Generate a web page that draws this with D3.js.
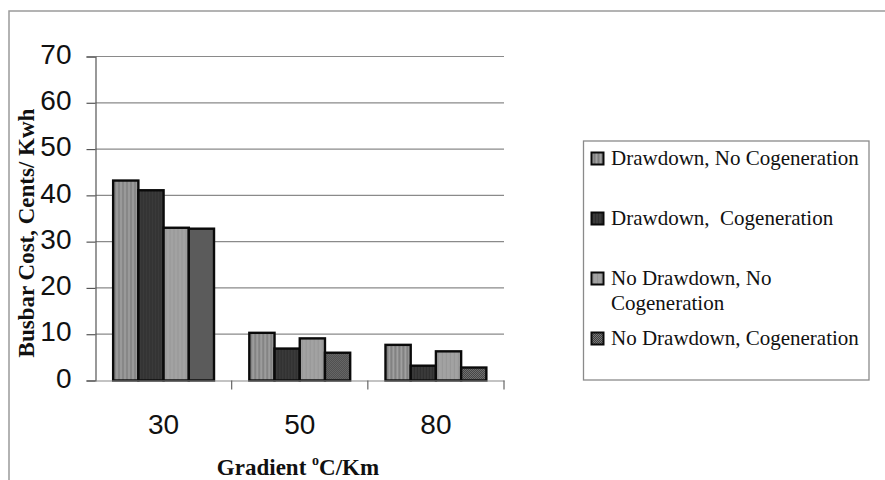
<!DOCTYPE html>
<html>
<head>
<meta charset="utf-8">
<script src="https://cdn.jsdelivr.net/npm/d3@7"></script>
<style>
  html, body { margin: 0; padding: 0; background: #fff; }
  svg { display: block; }
</style>
</head>
<body>
<svg id="chart" width="885" height="480"></svg>
<script>
// Busbar cost by geothermal gradient, four drawdown / cogeneration scenarios
const gradients = ["30", "50", "80"];
const seriesNames = [
  "Drawdown, No Cogeneration",
  "Drawdown,  Cogeneration",
  "No Drawdown, No Cogeneration",
  "No Drawdown, Cogeneration"
];
const drawdownNoCogen   = [43.2, 10.3, 7.7];
const drawdownCogen     = [41.1, 6.9, 3.2];
const noDrawdownNoCogen = [33.0, 9.1, 6.3];
const noDrawdownCogen   = [32.8, 6.0, 2.8];
const yTicks = [0, 10, 20, 30, 40, 50, 60, 70];

const seriesValues = [drawdownNoCogen, drawdownCogen, noDrawdownNoCogen, noDrawdownCogen];

const svg = d3.select("#chart");
const defs = svg.append("defs");

// Bar fills: textured grays
const p1 = defs.append("pattern").attr("id", "fill0").attr("patternUnits", "userSpaceOnUse")
  .attr("width", 4).attr("height", 4);
p1.append("rect").attr("width", 4).attr("height", 4).attr("fill", "#8f8f8f");
p1.append("rect").attr("x", 1).attr("width", 1).attr("height", 4).attr("fill", "#a3a3a3");
p1.append("rect").attr("x", 3).attr("width", 1).attr("height", 4).attr("fill", "#7f7f7f");

const p2 = defs.append("pattern").attr("id", "fill1").attr("patternUnits", "userSpaceOnUse")
  .attr("width", 3).attr("height", 3);
p2.append("rect").attr("width", 3).attr("height", 3).attr("fill", "#3a3a3a");
p2.append("rect").attr("x", 1).attr("width", 1).attr("height", 3).attr("fill", "#2e2e2e");

const p3 = defs.append("pattern").attr("id", "fill2").attr("patternUnits", "userSpaceOnUse")
  .attr("width", 4).attr("height", 4);
p3.append("rect").attr("width", 4).attr("height", 4).attr("fill", "#a2a2a2");
p3.append("rect").attr("x", 2).attr("width", 1).attr("height", 4).attr("fill", "#969696");

const p4 = defs.append("pattern").attr("id", "fill3").attr("patternUnits", "userSpaceOnUse")
  .attr("width", 2).attr("height", 2);
p4.append("rect").attr("width", 2).attr("height", 2).attr("fill", "#3c3c3c");
p4.append("rect").attr("width", 1).attr("height", 1).attr("fill", "#7a7a7a");
p4.append("rect").attr("x", 1).attr("y", 1).attr("width", 1).attr("height", 1).attr("fill", "#7a7a7a");

// Outer chart frame (only its top and left edges fall inside the canvas)
svg.append("rect").attr("x", 9).attr("y", 11).attr("width", 900).attr("height", 500)
  .attr("fill", "none").attr("stroke", "#9a9a9a").attr("stroke-width", 1.5);

const plot = { left: 95.5, right: 504, top: 56.5, bottom: 380.5 };

const x = d3.scaleBand().domain(gradients).range([plot.left, plot.right]).paddingInner(0).paddingOuter(0);
const xInner = d3.scaleBand().domain(d3.range(seriesNames.length))
  .range([0, x.bandwidth()]).paddingInner(0).paddingOuter(0.7);
const y = d3.scaleLinear().domain([0, 70]).range([plot.bottom, plot.top]);

// Gridlines
svg.append("g").selectAll("line").data(yTicks.filter(d => d > 0)).join("line")
  .attr("x1", plot.left).attr("x2", plot.right)
  .attr("y1", d => y(d)).attr("y2", d => y(d))
  .attr("stroke", "#8a8a8a").attr("stroke-width", 1.2);

// Y axis
const yAxis = svg.append("g").attr("transform", `translate(${plot.left},0)`)
  .call(d3.axisLeft(y).tickValues(yTicks).tickSize(9).tickPadding(15).tickFormat(d3.format("d")));
yAxis.select(".domain").attr("stroke", "#555").attr("stroke-width", 1.2);
yAxis.selectAll(".tick line").attr("stroke", "#555").attr("stroke-width", 1.2);
yAxis.selectAll(".tick text")
  .attr("font-family", "'Liberation Sans', Arial, sans-serif")
  .attr("font-size", 28).attr("fill", "#111").attr("dy", "0.24em");

// Bars
const groups = svg.append("g").selectAll("g").data(gradients).join("g")
  .attr("transform", d => `translate(${x(d)},0)`);
groups.selectAll("rect")
  .data((g, gi) => seriesValues.map((vals, si) => ({ si, v: vals[gi] })))
  .join("rect")
  .attr("x", d => xInner(d.si))
  .attr("width", xInner.bandwidth())
  .attr("y", d => y(d.v))
  .attr("height", d => y(0) - y(d.v))
  .attr("fill", d => `url(#fill${d.si})`)
  .attr("stroke", "#0a0a0a").attr("stroke-width", 2.4);

// X axis
const xAxis = svg.append("g").attr("transform", `translate(0,${plot.bottom})`)
  .call(d3.axisBottom(x).tickSize(0).tickPadding(34));
xAxis.select(".domain").attr("stroke", "#888").attr("stroke-width", 1.2);
xAxis.selectAll(".tick text")
  .attr("font-family", "'Liberation Sans', Arial, sans-serif")
  .attr("font-size", 28).attr("fill", "#111");
// Category separator ticks
const edges = gradients.map(g => x(g) + x.bandwidth());
xAxis.append("g").selectAll("line").data(edges).join("line")
  .attr("x1", d => d).attr("x2", d => d).attr("y1", 0).attr("y2", 9)
  .attr("stroke", "#666").attr("stroke-width", 1.2);

// Axis titles
svg.append("text")
  .attr("transform", "translate(34,233) rotate(-90)")
  .attr("text-anchor", "middle")
  .attr("font-family", "'Liberation Serif', 'Times New Roman', serif")
  .attr("font-weight", "bold").attr("font-size", 23).attr("fill", "#111")
  .text("Busbar Cost, Cents/ Kwh");

const xt = svg.append("text")
  .attr("x", 298).attr("y", 475)
  .attr("text-anchor", "middle")
  .attr("font-family", "'Liberation Serif', 'Times New Roman', serif")
  .attr("font-weight", "bold").attr("font-size", 23).attr("fill", "#111");
xt.append("tspan").text("Gradient ");
xt.append("tspan").attr("font-size", 14).attr("dy", -10).text("o");
xt.append("tspan").attr("dy", 10).text("C/Km");

// Legend
svg.append("rect").attr("x", 583.5).attr("y", 141).attr("width", 285.5).attr("height", 239)
  .attr("fill", "#fff").attr("stroke", "#8a8a8a").attr("stroke-width", 1.3);

const legendLines = [
  ["Drawdown, No Cogeneration"],
  ["Drawdown,  Cogeneration"],
  ["No Drawdown, No", "Cogeneration"],
  ["No Drawdown, Cogeneration"]
];
const legendY = [165, 225, 285, 345];
const leg = svg.append("g").selectAll("g").data(seriesNames).join("g")
  .attr("transform", (d, i) => `translate(591,${legendY[i]})`);
leg.append("rect").attr("x", 0.5).attr("y", -12.5).attr("width", 12).attr("height", 12)
  .attr("fill", (d, i) => `url(#fill${i})`).attr("stroke", "#0a0a0a").attr("stroke-width", 2);
leg.append("text")
  .attr("x", 20).attr("y", 0)
  .attr("font-family", "'Liberation Serif', 'Times New Roman', serif")
  .attr("font-size", 21).attr("fill", "#111")
  .style("white-space", "pre")
  .each(function (d, i) {
    const t = d3.select(this);
    legendLines[i].forEach((line, k) => {
      t.append("tspan").attr("x", 20).attr("dy", k === 0 ? 0 : 25).text(line);
    });
  });
</script>
</body>
</html>
